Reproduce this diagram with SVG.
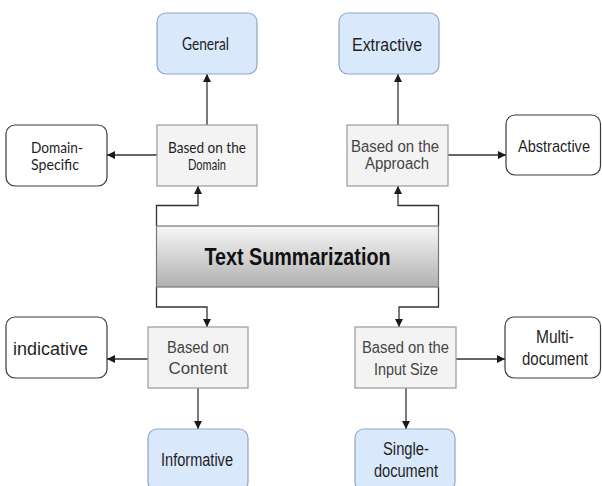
<svg xmlns="http://www.w3.org/2000/svg" width="602" height="486" viewBox="0 0 602 486">
  <defs>
    <linearGradient id="centerFill" x1="0" y1="0" x2="0" y2="1">
      <stop offset="0" stop-color="#f7f7f7"/>
      <stop offset="1" stop-color="#b0b0b0"/>
    </linearGradient>
    <marker id="arrow" viewBox="0 0 8 8" refX="8" refY="4" markerWidth="8" markerHeight="8" markerUnits="userSpaceOnUse" orient="auto">
      <path d="M0,0 L8,4 L0,8 z" fill="#1a1a1a"/>
    </marker>
    <style>
      .blue { fill: #dae8fc; stroke: #8ea6c9; stroke-width: 1.2; }
      .gray { fill: #f3f3f3; stroke: #9a9a9a; stroke-width: 1.2; }
      .white { fill: #ffffff; stroke: #3a3a3a; stroke-width: 1.2; }
      .center { fill: url(#centerFill); stroke: #777; stroke-width: 1.2; }
      .edge { fill: none; stroke: #333; stroke-width: 1.3; marker-end: url(#arrow); }
      .t { font-family: "Liberation Sans", Arial, sans-serif; font-size: 17.5px; fill: #1f1f1f; text-anchor: middle; }
      .g { fill: #444; font-size: 16px; }
      .o { font-family: Lato, "Open Sans", sans-serif; font-size: 15px; fill: #1f1f1f; text-anchor: middle; }
      .title { font-family: "Liberation Sans", Arial, sans-serif; font-size: 24px; font-weight: bold; fill: #111; text-anchor: middle; }
    </style>
  </defs>

  <!-- connectors -->
  <g id="connectors">
    <path class="edge" d="M207,125 V74"/>
    <path class="edge" d="M157,155 H107"/>
    <path class="edge" d="M398,125 V74"/>
    <path class="edge" d="M448,155 H506"/>
    <path class="edge" d="M156.5,226 V205.5 H198 V186"/>
    <path class="edge" d="M438.5,226 V205.5 H398 V186"/>
    <path class="edge" d="M156.5,287 V307 H207 V327"/>
    <path class="edge" d="M438.5,287 V307 H399 V327"/>
    <path class="edge" d="M148,359 H107"/>
    <path class="edge" d="M198,388 V429"/>
    <path class="edge" d="M456,359 H505"/>
    <path class="edge" d="M406,388 V429"/>
  </g>

  <!-- central node -->
  <g id="text-summarization">
    <rect class="center" x="156.5" y="226" width="282" height="61"/>
    <text class="title" x="297.5" y="265" textLength="186" lengthAdjust="spacingAndGlyphs">Text Summarization</text>
  </g>

  <!-- domain branch -->
  <g id="based-on-domain">
    <rect class="gray" x="157" y="125" width="100" height="61"/>
    <text class="o g" x="207" y="152.5" style="font-size:15px" textLength="78" lengthAdjust="spacingAndGlyphs">Based on the</text>
    <text class="o g" x="207" y="169.5" style="font-size:15px" textLength="38" lengthAdjust="spacingAndGlyphs">Domain</text>
  </g>
  <g id="general">
    <rect class="blue" x="157" y="13" width="100" height="61" rx="9"/>
    <text class="o" x="205.5" y="50" style="font-size:17px" textLength="47" lengthAdjust="spacingAndGlyphs">General</text>
  </g>
  <g id="domain-specific">
    <rect class="white" x="6" y="125" width="101" height="61" rx="9"/>
    <text class="o" x="57" y="152.5" textLength="52" lengthAdjust="spacingAndGlyphs">Domain-</text>
    <text class="o" x="55" y="169.5" textLength="48" lengthAdjust="spacingAndGlyphs">Specific</text>
  </g>

  <!-- approach branch -->
  <g id="based-on-approach">
    <rect class="gray" x="347" y="125" width="101" height="61"/>
    <text class="t g" x="395" y="152" textLength="88" lengthAdjust="spacingAndGlyphs">Based on the</text>
    <text class="t g" x="397" y="169" textLength="64" lengthAdjust="spacingAndGlyphs">Approach</text>
  </g>
  <g id="extractive">
    <rect class="blue" x="339" y="13" width="100" height="61" rx="9"/>
    <text class="t" x="387" y="50.5" textLength="70" lengthAdjust="spacingAndGlyphs">Extractive</text>
  </g>
  <g id="abstractive">
    <rect class="white" x="506" y="115" width="94.5" height="60" rx="9"/>
    <text class="t" x="554" y="151.5" style="font-size:17px" textLength="72" lengthAdjust="spacingAndGlyphs">Abstractive</text>
  </g>

  <!-- content branch -->
  <g id="based-on-content">
    <rect class="gray" x="148" y="327" width="100" height="61"/>
    <text class="t g" x="198" y="353" textLength="62" lengthAdjust="spacingAndGlyphs">Based on</text>
    <text class="t g" x="198" y="374" textLength="59" lengthAdjust="spacingAndGlyphs">Content</text>
  </g>
  <g id="indicative">
    <rect class="white" x="6" y="317" width="101" height="61" rx="9"/>
    <text class="t" x="50.5" y="355" textLength="75" lengthAdjust="spacingAndGlyphs">indicative</text>
  </g>
  <g id="informative">
    <rect class="blue" x="148" y="429" width="100" height="62" rx="9"/>
    <text class="t" x="197" y="466" textLength="72" lengthAdjust="spacingAndGlyphs">Informative</text>
  </g>

  <!-- input size branch -->
  <g id="based-on-input-size">
    <rect class="gray" x="355" y="327" width="101" height="61"/>
    <text class="t g" x="405.5" y="353" textLength="87" lengthAdjust="spacingAndGlyphs">Based on the</text>
    <text class="t g" x="406" y="375" textLength="64" lengthAdjust="spacingAndGlyphs">Input Size</text>
  </g>
  <g id="multi-document">
    <rect class="white" x="505" y="317" width="95.5" height="61" rx="9"/>
    <text class="t" x="555" y="343" textLength="38" lengthAdjust="spacingAndGlyphs">Multi-</text>
    <text class="t" x="555" y="365" textLength="66" lengthAdjust="spacingAndGlyphs">document</text>
  </g>
  <g id="single-document">
    <rect class="blue" x="355" y="429" width="100" height="62" rx="9"/>
    <text class="t" x="406" y="455" textLength="46" lengthAdjust="spacingAndGlyphs">Single-</text>
    <text class="t" x="406" y="477" textLength="64" lengthAdjust="spacingAndGlyphs">document</text>
  </g>
</svg>
